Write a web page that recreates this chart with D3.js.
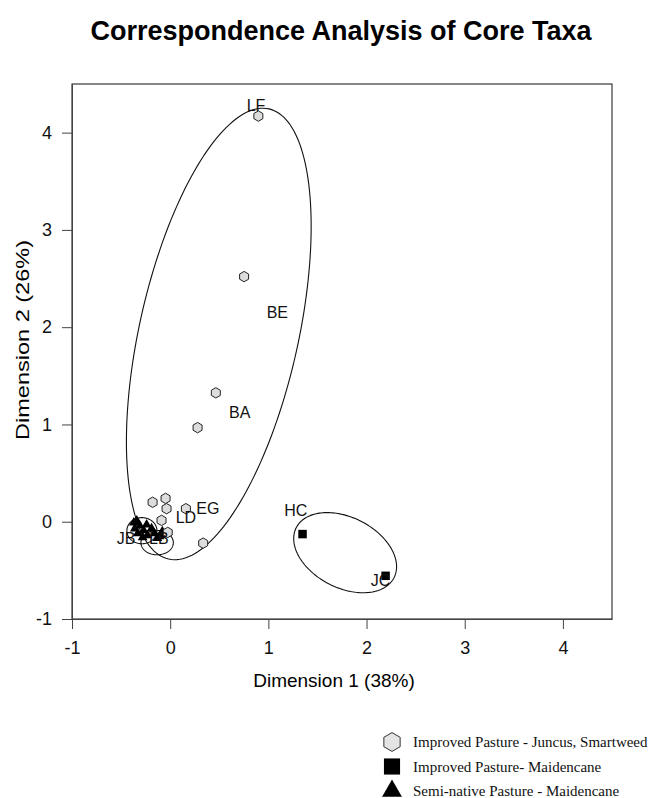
<!DOCTYPE html>
<html>
<head>
<meta charset="utf-8">
<script src="https://cdn.jsdelivr.net/npm/d3@7"></script>
<style>
  body { margin: 0; background: #fff; }
  svg { display: block; font-family: 'Liberation Sans', Arial, sans-serif; }
  .axis path, .axis line { stroke: #444; }
  .axis text { font-size: 18px; fill: #111; }
  .legend text { font-family: 'Liberation Serif', 'Times New Roman', serif; font-size: 15px; fill: #111; }
</style>
</head>
<body>
<div id="chart"></div>
<script>
// Improved Pasture - Juncus, Smartweed (hexagons)
const juncusX = [0.898, 0.753, 0.465, 0.279, -0.179, -0.047, -0.037, 0.16, -0.088, 0.336, -0.025]
const juncusY = [4.17, 2.52, 1.325, 0.967, 0.20, 0.24, 0.134, 0.134, 0.014, -0.22, -0.11]
// Improved Pasture - Maidencane (squares)
const maidenX = [1.348, 2.194]
const maidenY = [-0.127, -0.556]
// Semi-native Pasture - Maidencane (triangles)
const semiX = [-0.37, -0.34, -0.36, -0.31, -0.27, -0.33, -0.23, -0.16, -0.11, -0.19, -0.28, -0.06, -0.13, -0.24, -0.08]
const semiY = [-0.01, 0.01, -0.07, -0.04, -0.09, -0.12, -0.14, -0.12, -0.15, -0.07, -0.16, -0.13, -0.17, -0.03, -0.10]

// taxa labels
const taxa = ['LF', 'BE', 'BA', 'EG', 'LD', 'HC', 'JC', 'JB', 'LB']
const taxaX = [0.874, 1.091, 0.709, 0.384, 0.160, 1.279, 2.143, -0.450, -0.115]
const taxaY = [4.28, 2.156, 1.128, 0.135, 0.042, 0.114, -0.606, -0.174, -0.174]

// ellipses: centre, two conjugate half-axes (data units)
const ellCX = [0.495, 1.782, -0.288, -0.133]
const ellCY = [1.930, -0.318, -0.092, -0.215]
const ellAX = [0.511, 0.524, 0.153, 0.165]
const ellAY = [2.314, -0.144, 0, 0]
const ellBX = [0.790, 0, 0, 0]
const ellBY = [-0.179, 0.386, 0.134, 0.125]

const xTicks = [-1, 0, 1, 2, 3, 4]
const yTicks = [-1, 0, 1, 2, 3, 4]
const legendLabels = ['Improved Pasture - Juncus, Smartweed', 'Improved Pasture- Maidencane', 'Semi-native Pasture - Maidencane']

const W = 652, H = 798
const margin = { top: 84, left: 72, right: 40, bottom: 179 }
const width = W - margin.left - margin.right,
    height = H - margin.top - margin.bottom

const svg = d3.select('#chart').append('svg')
    .attr('width', W)
    .attr('height', H)

svg.append('text')
    .attr('x', 341)
    .attr('y', 40)
    .attr('text-anchor', 'middle')
    .style('font-size', '27px')
    .style('font-weight', 'bold')
    .text('Correspondence Analysis of Core Taxa')

const x = d3.scaleLinear().domain([-1, 4.5]).range([0, width])
const y = d3.scaleLinear().domain([-1, 4.5]).range([height, 0])

const g = svg.append('g')
    .attr('transform', 'translate(' + margin.left + ',' + margin.top + ')')

g.append('rect')
    .attr('width', width)
    .attr('height', height)
    .attr('fill', 'none')
    .attr('stroke', '#111')

g.append('g')
    .classed('axis', true)
    .attr('transform', 'translate(0,' + height + ')')
    .call(d3.axisBottom(x).tickValues(xTicks).tickFormat(d => String(d))
        .tickSize(10).tickSizeOuter(0).tickPadding(12))
g.append('g')
    .classed('axis', true)
    .call(d3.axisLeft(y).tickValues(yTicks).tickFormat(d => String(d))
        .tickSize(10).tickSizeOuter(0).tickPadding(10))
g.selectAll('.axis text').style('font-family', "'Liberation Sans', Arial, sans-serif")

svg.append('text')
    .attr('x', 334)
    .attr('y', 687)
    .attr('text-anchor', 'middle')
    .style('font-size', '19px')
    .text('Dimension 1 (38%)')
svg.append('text')
    .attr('transform', 'translate(29,340) rotate(-90)')
    .attr('text-anchor', 'middle')
    .style('font-size', '19px')
    .attr('textLength', 200)
    .attr('lengthAdjust', 'spacingAndGlyphs')
    .text('Dimension 2 (26%)')

// ellipses
const line = d3.line().x(d => x(d[0])).y(d => y(d[1])).curve(d3.curveLinearClosed)
const angles = d3.range(0, 360, 2).map(a => a * Math.PI / 180)
ellCX.forEach((cx, i) => {
    const pts = angles.map(t => [
        cx + ellAX[i] * Math.cos(t) + ellBX[i] * Math.sin(t),
        ellCY[i] + ellAY[i] * Math.cos(t) + ellBY[i] * Math.sin(t)
    ])
    g.append('path')
        .attr('d', line(pts))
        .attr('fill', 'none')
        .attr('stroke', '#111')
        .attr('stroke-width', 1.1)
})

const hexagon = {
    draw(ctx, size) {
        const r = Math.sqrt(size / (1.5 * Math.sqrt(3)))
        for (let i = 0; i < 6; i++) {
            const a = (i * 60 - 90) * Math.PI / 180
            if (i === 0) ctx.moveTo(r * Math.cos(a), r * Math.sin(a))
            else ctx.lineTo(r * Math.cos(a), r * Math.sin(a))
        }
        ctx.closePath()
    }
}

// triangles
g.selectAll('.semi')
    .data(semiX)
    .enter()
    .append('path')
    .attr('transform', (d, i) => 'translate(' + x(d) + ',' + y(semiY[i]) + ')')
    .attr('d', d3.symbol().type(d3.symbolTriangle).size(42))
    .attr('fill', '#000')

// hexagons
g.selectAll('.junc')
    .data(juncusX)
    .enter()
    .append('path')
    .attr('transform', (d, i) => 'translate(' + x(d) + ',' + y(juncusY[i]) + ')')
    .attr('d', d3.symbol().type(hexagon).size(70))
    .attr('fill', '#ddd')
    .attr('stroke', '#222')
    .attr('stroke-width', 1)

// squares
g.selectAll('.maid')
    .data(maidenX)
    .enter()
    .append('path')
    .attr('transform', (d, i) => 'translate(' + x(d) + ',' + y(maidenY[i]) + ')')
    .attr('d', d3.symbol().type(d3.symbolSquare).size(72))
    .attr('fill', '#000')

g.selectAll('.taxa')
    .data(taxa)
    .enter()
    .append('text')
    .attr('x', (d, i) => x(taxaX[i]))
    .attr('y', (d, i) => y(taxaY[i]))
    .attr('dy', '0.35em')
    .attr('text-anchor', 'middle')
    .style('font-size', '16px')
    .style('fill', '#111')
    .text(d => d)

// legend
const legend = svg.append('g').classed('legend', true)
const legendSymbols = [
    d3.symbol().type(hexagon).size(230),
    d3.symbol().type(d3.symbolSquare).size(260),
    d3.symbol().type(d3.symbolTriangle).size(170)
]
legendLabels.forEach((label, i) => {
    const ly = 742 + i * 24.5
    legend.append('path')
        .attr('transform', 'translate(392,' + ly + ')')
        .attr('d', legendSymbols[i]())
        .attr('fill', i === 0 ? '#e4e4e4' : '#000')
        .attr('stroke', i === 0 ? '#333' : 'none')
    legend.append('text')
        .attr('x', 413)
        .attr('y', ly)
        .attr('dy', '0.35em')
        .text(label)
})
</script>
</body>
</html>
